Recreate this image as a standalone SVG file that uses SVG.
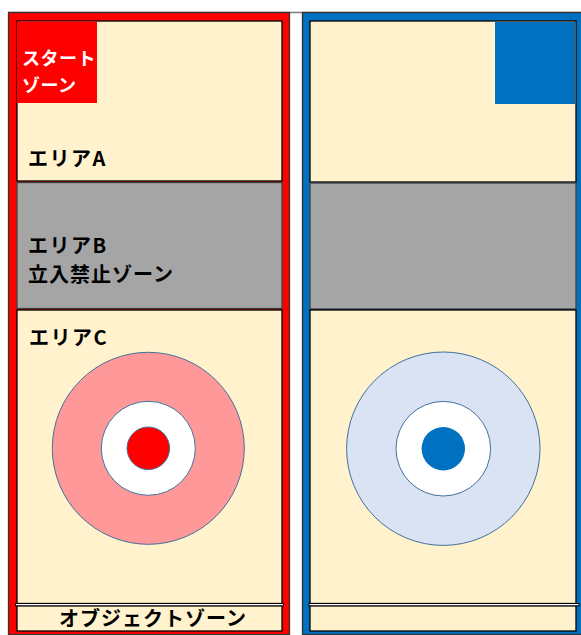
<svg xmlns="http://www.w3.org/2000/svg" width="581" height="635" viewBox="0 0 581 635">
<style>
.cream{fill:#FFF2CC;stroke:#000;stroke-width:1.3}
.gray{fill:#A5A5A5;stroke:#404040;stroke-width:1.3}
.ring{stroke:#41719C;stroke-width:1}
.sep{fill:#fff;stroke:#000;stroke-width:1}
.lbl{font-family:"Noto Sans CJK JP","Noto Sans",sans-serif;font-weight:bold;font-size:20px;fill:#000;letter-spacing:1.5px}
.wlbl{font-family:"Noto Sans CJK JP","Noto Sans",sans-serif;font-weight:bold;font-size:18px;fill:#fff;letter-spacing:0.5px}
</style>
<rect x="0" y="0" width="581" height="635" fill="#fff"/>
<line x1="8" y1="12.5" x2="581" y2="12.5" stroke="#808080" stroke-width="1.5"/>
<g id="red-field">
<rect x="8.5" y="12.5" width="281" height="622" fill="#FF0000" stroke="#333" stroke-width="1.3"/>
<rect class="cream" x="17" y="21" width="265" height="160"/>
<rect class="gray" x="17" y="182.5" width="265" height="126"/>
<rect class="cream" x="17" y="310" width="265" height="293.5"/>
<rect class="cream" x="17" y="605.8" width="265" height="25.2"/>
<rect class="sep" x="15.5" y="603.5" width="268" height="2.3"/>
</g>
<g id="blue-field">
<rect x="302.5" y="12.5" width="285" height="622" fill="#0070C0" stroke="#333" stroke-width="1.3"/>
<rect class="cream" x="310" y="21" width="266" height="161"/>
<rect class="gray" x="310" y="183" width="266" height="126"/>
<rect class="cream" x="310" y="310" width="266" height="293.5"/>
<rect class="cream" x="310" y="605.8" width="266" height="25.2"/>
<rect class="sep" x="309" y="603.5" width="270" height="2.3"/>
</g>
<g id="start-zone-red">
<rect x="17" y="21.5" width="80" height="81.5" fill="#FF0000"/>
<text class="wlbl" x="22" y="65">スタート</text>
<text class="wlbl" x="22" y="92">ゾーン</text>
</g>
<g id="start-zone-blue">
<rect x="495" y="22" width="80" height="82" fill="#0070C0"/>
</g>
<g id="area-a"><text class="lbl" x="28" y="166">エリアA</text></g>
<g id="area-b">
<text class="lbl" x="28" y="253">エリアB</text>
<text class="lbl" x="28" y="282" style="letter-spacing:1px">立入禁止ゾーン</text>
</g>
<g id="area-c"><text class="lbl" x="29" y="345">エリアC</text></g>
<g id="target-red">
<circle class="ring" cx="148.3" cy="448.3" r="96" fill="#FF9999"/>
<circle class="ring" cx="148.3" cy="448.3" r="47" fill="#fff"/>
<circle class="ring" cx="148.3" cy="448.3" r="21.3" fill="#FF0000"/>
</g>
<g id="target-blue">
<circle class="ring" cx="443.3" cy="448.7" r="96.7" fill="#DAE3F3"/>
<circle class="ring" cx="443.3" cy="448.7" r="47.3" fill="#fff"/>
<circle cx="443.3" cy="448.7" r="21.7" fill="#0070C0"/>
</g>
<g id="object-zone"><text class="lbl" x="153" y="626" text-anchor="middle" style="letter-spacing:1px">オブジェクトゾーン</text></g>
<g id="connectors"/>
</svg>
